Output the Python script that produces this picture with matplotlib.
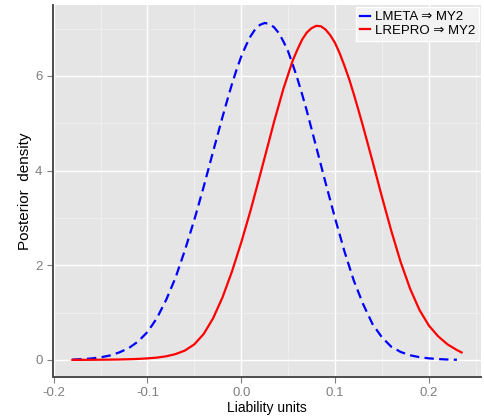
import matplotlib.pyplot as plt
import numpy as np

# posterior densities; the grid is finer around each mode
x_meta = [-0.18, -0.17, -0.16, -0.15, -0.14, -0.13, -0.12, -0.11, -0.10, -0.09,
          -0.08, -0.07, -0.06, -0.05, -0.04, -0.03, -0.02, -0.015, -0.01, -0.005,
          0.00, 0.005, 0.01, 0.015, 0.02, 0.025, 0.03, 0.035, 0.04, 0.045,
          0.05, 0.055, 0.06, 0.065, 0.07, 0.08, 0.09, 0.10, 0.11, 0.12,
          0.13, 0.14, 0.15, 0.16, 0.17, 0.18, 0.19, 0.20, 0.21, 0.22,
          0.23]
dens_meta = [0.009, 0.017, 0.032, 0.056, 0.095, 0.16, 0.25, 0.39, 0.59, 0.88,
             1.27, 1.74, 2.32, 2.96, 3.66, 4.40, 5.13, 5.48, 5.82, 6.13,
             6.41, 6.64, 6.84, 6.99, 7.08, 7.12, 7.10, 7.03, 6.91, 6.73,
             6.52, 6.24, 5.94, 5.61, 5.26, 4.50, 3.74, 3.00, 2.30, 1.68,
             1.18, 0.76, 0.48, 0.28, 0.17, 0.10, 0.06, 0.035, 0.02, 0.01,
             0.005]

x_repro = [-0.18, -0.17, -0.16, -0.15, -0.14, -0.13, -0.12, -0.11, -0.10, -0.09,
           -0.08, -0.07, -0.06, -0.05, -0.04, -0.03, -0.02, -0.01, 0.00, 0.01,
           0.02, 0.03, 0.035, 0.04, 0.045, 0.05, 0.055, 0.06, 0.065, 0.07,
           0.075, 0.08, 0.085, 0.09, 0.095, 0.10, 0.105, 0.11, 0.115, 0.12,
           0.125, 0.13, 0.14, 0.15, 0.16, 0.17, 0.18, 0.19, 0.20, 0.21,
           0.22, 0.23, 0.235]
dens_repro = [0.002, 0.003, 0.004, 0.006, 0.008, 0.011, 0.016, 0.023, 0.034, 0.05,
              0.078, 0.125, 0.20, 0.33, 0.55, 0.88, 1.32, 1.86, 2.48, 3.16,
              3.90, 4.65, 5.03, 5.38, 5.73, 6.03, 6.33, 6.56, 6.77, 6.92,
              7.01, 7.06, 7.05, 6.98, 6.86, 6.70, 6.48, 6.22, 5.94, 5.62,
              5.28, 4.93, 4.20, 3.45, 2.73, 2.07, 1.51, 1.06, 0.73, 0.50,
              0.33, 0.21, 0.16]

labels = ['LMETA \u21d2 MY2', 'LREPRO \u21d2 MY2']

plt.rcParams['font.family'] = ['Liberation Sans', 'DejaVu Sans']

fig = plt.figure(figsize=(4.85, 4.16), dpi=100)
ax = fig.add_axes([0.109, 0.094, 0.883, 0.894])
ax.set_facecolor('#e5e5e5')

# ggplot-like grid: white major lines, faint minor lines
ax.set_xticks([-0.2, -0.1, 0.0, 0.1, 0.2])
ax.set_xticklabels(['-0.2', '-0.1', '0.0', '0.1', '0.2'])
ax.set_yticks([0, 2, 4, 6])
ax.set_xticks([-0.15, -0.05, 0.05, 0.15, 0.25], minor=True)
ax.set_yticks([1, 3, 5, 7], minor=True)
ax.grid(which='major', color='white', linewidth=1.0)
ax.grid(which='minor', color='#f0f0f0', linewidth=0.6)
ax.set_axisbelow(True)

ax.plot(x_meta, dens_meta, color='blue', linewidth=1.6, dashes=(4.2, 2.4),
        solid_joinstyle='round', dash_joinstyle='round', label=labels[0])
ax.plot(x_repro, dens_repro, color='red', linewidth=1.6,
        solid_joinstyle='round', label=labels[1])

ax.set_xlim(-0.2008, 0.2558)
ax.set_ylim(-0.357, 7.5)

for side in ['top', 'right']:
    ax.spines[side].set_visible(False)
for side in ['left', 'bottom']:
    ax.spines[side].set_color('#4d4d4d')
    ax.spines[side].set_linewidth(1.4)

ax.tick_params(which='major', direction='out', length=4, width=0.8,
               color='#7f7f7f', labelcolor='#7f7f7f', labelsize=9.5)
ax.tick_params(which='minor', length=0)

ax.set_xlabel('Liability units', fontsize=10, labelpad=1)
ax.set_ylabel('Posterior  density', fontsize=11, labelpad=2)

leg = ax.legend(loc='upper right', fontsize=9.5, frameon=True, fancybox=False,
                handlelength=0.8, handletextpad=0.35, borderpad=0.3,
                labelspacing=0.1, borderaxespad=0.15)
leg.get_frame().set_facecolor('#f2f2f2')
leg.get_frame().set_edgecolor('white')
leg.get_frame().set_alpha(1)
for h in leg.get_lines():
    h.set_linestyle('-')

fig.savefig('out.png', dpi=100)
